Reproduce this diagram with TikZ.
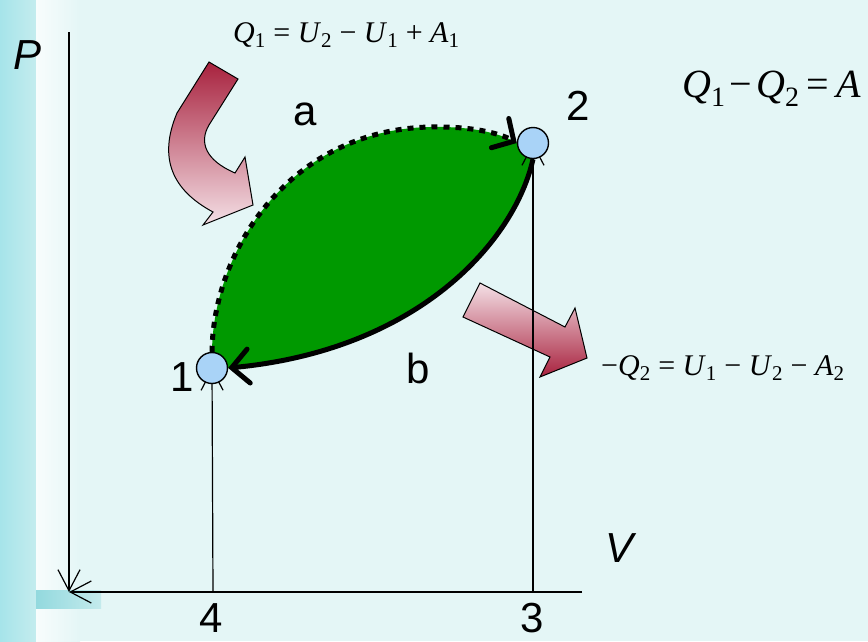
\documentclass[tikz,border=0pt]{standalone}
\usepackage{fontspec}
\setmainfont{Liberation Sans}
\newfontfamily\eqfont{Liberation Serif}
\usepackage{tikz}
\usetikzlibrary{arrows.meta, positioning, backgrounds}

\definecolor{bgcyan}{HTML}{E4F6F6}
\definecolor{stripdark}{HTML}{A6E4EA}
\definecolor{stripcyan}{HTML}{C4ECEE}
\definecolor{cornercyan}{HTML}{93D9DE}
\definecolor{leafgreen}{HTML}{009900}
\definecolor{stateblue}{HTML}{A9D3F7}
\definecolor{heatdark}{HTML}{A8223E}
\definecolor{heatpale}{HTML}{F4E0E6}

\newcommand{\iv}[2]{\textit{#1}\textsubscript{#2}}

\tikzset{
  axisline/.style={
    line width=1.2pt, -{Straight Barb[length=21pt,width=22pt]}
  },
  statept/.style={
    circle, draw, line width=1.4pt, fill=stateblue,
    minimum size=31pt, inner sep=0pt
  },
  proca/.style={
    line width=5pt, dash pattern=on 6pt off 6pt,
    -{Straight Barb[length=16pt,width=34pt,line width=5pt,line cap=round]}
  },
  procb/.style={
    line width=5pt,
    -{Straight Barb[length=17pt,width=34pt,line width=5pt,line cap=round]}
  },
  heatarrow/.style={
    draw, line width=1pt, line join=miter
  },
  lbl/.style={
    font=\fontsize{42}{42}\selectfont, inner sep=0pt
  },
  eqtext/.style={
    font=\eqfont\fontsize{30}{30}\selectfont, inner sep=0pt, anchor=base west
  },
}

\begin{document}
\begin{tikzpicture}[x=1pt, y=-1pt]
  \useasboundingbox (0,0) rectangle (868,641);
  \clip (0,0) rectangle (868,641);

  % States
  \node[statept] (s1) at (212,368) {};
  \node[statept] (s2) at (533,143) {};
  \coordinate (o) at (69,592);
  \coordinate (ptop) at (69,32);
  \coordinate (vend) at (582,592);
  \coordinate (v4) at (213,592);
  \coordinate (v3) at (533,592);

  \begin{scope}[on background layer]
    % Background
    \fill[bgcyan] (0,0) rectangle (868,641);
    \shade[left color=stripdark, right color=stripcyan] (0,0) rectangle (36,641);
    \shade[left color=white!75!bgcyan, right color=bgcyan] (36,0) rectangle (80,641);
    \shade[left color=cornercyan, right color=cornercyan!40!bgcyan]
      (36,590) rectangle (101,608);

    % Heat arrows
    \path[heatarrow, top color=heatdark, bottom color=heatpale]
      (209,62) -- (238,79) -- (209,125)
      .. controls (199,142) and (205,160) .. (235,173)
      -- (245,157) -- (253,205) -- (203,225) -- (213,212)
      .. controls (172,190) and (158,158) .. (177,113) -- cycle;
    \path[heatarrow, top color=heatpale, bottom color=heatdark]
      (480,283) -- (565,327) -- (575,308) -- (587,358)
      -- (540,377) -- (550,357) -- (463,317) -- cycle;

    % Cycle
    \fill[leafgreen] (s1.north)
      .. controls (213,250) and (290,130) .. (430,127)
      .. controls (480,126) and (505,136) .. (s2.west)
      -- (s2.south) .. controls (515,240) and (420,350) .. (s1.east) -- cycle;
    \draw[proca] (s1.north)
      .. controls (213,250) and (290,130) .. (430,127)
      .. controls (480,126) and (505,136) .. (s2.west);
    \draw[procb] (s2.south) .. controls (515,240) and (420,350) .. (s1.east);

    % Axes
    \draw[axisline] (ptop) -- (o);
    \draw[axisline] (vend) -- (o);
    \draw[axisline] (v4) -- (s1.center);
    \draw[axisline] (v3) -- (s2.center);
  \end{scope}

  % Labels
  \node[lbl, font=\fontsize{42}{42}\selectfont\itshape] (lp) at (28,55) {P};
  \node[lbl, font=\fontsize{42}{42}\selectfont\itshape] (lv) at (620,548) {V};
  \node[lbl] (l1) at (182,377) {1};
  \node[lbl] (l2) at (578,106) {2};
  \node[lbl] (la) at (305,114) {a};
  \node[lbl] (lb) at (418,368) {b};
  \node[lbl] (t4) at (211,618) {4};
  \node[lbl] (t3) at (532,618) {3};

  % Equations
  \node[eqtext] (qin) at (233,42)
    {\iv{Q}{1} = \iv{U}{2} − \iv{U}{1} + \iv{A}{1}};
  \node[eqtext] (qout) at (601,375)
    {−\iv{Q}{2} = \iv{U}{1} − \iv{U}{2} − \iv{A}{2}};
  \node[eqtext, font=\eqfont\fontsize{40}{40}\selectfont] (qnet) at (682,97)
    {\iv{Q}{1}\kern4pt−\kern4pt\iv{Q}{2}\kern7pt=\kern7pt\textit{A}};
\end{tikzpicture}
\end{document}
